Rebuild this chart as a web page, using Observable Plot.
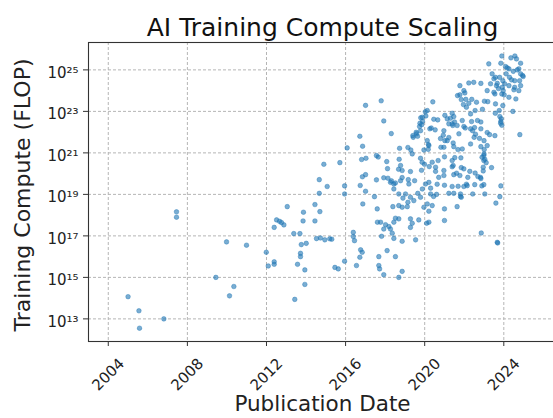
<!DOCTYPE html>
<html><head><meta charset="utf-8">
<script src="https://cdn.jsdelivr.net/npm/d3@7"></script>
<script src="https://cdn.jsdelivr.net/npm/@observablehq/plot@0.6"></script>
<style>
html,body{margin:0;padding:0;background:#fff;overflow:hidden}
#wrap{width:553px;height:418px;overflow:hidden;position:relative}
#wrap svg{max-width:none !important;width:565px !important;height:418px !important}
</style></head><body><div id="wrap"></div>
<script>
const chartTitle = "AI Training Compute Scaling";
const xLabel = "Publication Date";
const yLabel = "Training Compute (FLOP)";
const yearTicks = [2004, 2008, 2012, 2016, 2020, 2024];
const exponentTicks = [13, 15, 17, 19, 21, 23, 25];
// [publication year, log10(training compute FLOP)]
const samples = [
[2005.00,14.07],[2005.55,13.39],[2005.58,12.55],[2006.81,13.00],[2007.45,18.16],[2007.45,17.90],
[2009.44,15.00],[2009.98,16.71],[2010.13,14.11],[2010.35,14.56],[2010.99,16.55],[2011.99,16.21],
[2012.09,15.55],[2012.39,17.41],[2012.39,15.75],[2012.39,15.63],[2012.51,17.77],[2012.66,17.70],
[2012.76,17.64],[2012.88,17.53],[2013.05,18.41],[2013.38,17.11],[2013.43,13.94],[2013.57,15.63],
[2013.69,17.11],[2013.76,16.58],[2013.72,16.16],[2013.72,16.00],[2013.87,18.14],[2013.85,17.72],
[2014.01,16.64],[2013.94,15.36],[2013.94,14.66],[2014.90,20.45],[2014.67,19.71],[2015.07,19.38],
[2014.67,19.05],[2014.45,18.51],[2014.70,18.17],[2014.45,17.72],[2014.53,16.87],[2014.73,16.90],
[2014.95,16.81],[2015.20,16.86],[2015.30,16.84],[2015.46,15.48],[2015.63,15.41],[2015.71,20.53],
[2015.95,19.41],[2015.95,19.02],[2015.95,15.78],[2016.08,21.24],[2016.72,21.80],[2016.86,21.32],
[2016.74,19.43],[2016.85,19.85],[2016.81,20.68],[2017.03,20.74],[2017.01,19.95],[2017.01,19.15],
[2016.87,18.54],[2016.39,17.17],[2016.39,16.97],[2016.45,16.77],[2016.76,16.33],[2016.84,16.21],
[2016.72,15.97],[2016.55,15.57],[2017.01,23.29],[2017.80,23.51],[2017.93,22.54],[2018.31,21.93],
[2017.56,20.87],[2017.65,20.80],[2018.08,20.58],[2018.12,20.24],[2017.56,19.70],[2017.93,19.80],
[2017.46,18.89],[2017.60,18.30],[2017.61,17.66],[2017.77,17.66],[2018.02,17.54],[2018.19,17.45],
[2018.27,17.33],[2017.93,17.33],[2017.82,16.98],[2017.68,16.00],[2017.68,15.57],[2017.72,15.41],
[2017.93,15.13],[2018.10,16.29],[2018.52,16.00],[2018.86,15.29],[2018.69,15.00],[2018.36,17.13],
[2018.44,16.88],[2018.86,16.74],[2019.54,16.81],[2018.69,17.82],[2018.44,17.66],[2018.52,17.85],
[2018.39,18.41],[2018.69,18.46],[2018.86,18.38],[2018.90,18.82],[2019.12,18.41],[2019.28,17.82],
[2019.37,17.61],[2019.70,17.77],[2019.28,17.41],[2020.21,17.66],[2020.10,17.61],[2020.13,18.54],
[2020.21,18.19],[2019.96,18.38],[2020.38,18.46],[2018.27,19.58],[2018.44,19.50],[2018.78,19.66],
[2019.20,19.50],[2018.44,19.26],[2018.69,19.02],[2019.03,19.02],[2019.15,18.62],[2019.28,18.86],
[2019.45,18.70],[2019.65,19.05],[2019.79,18.86],[2019.88,19.26],[2020.04,19.50],[2020.21,19.58],
[2020.30,19.02],[2018.14,19.78],[2018.32,19.65],[2018.52,19.55],[2018.86,19.81],[2018.68,20.21],
[2018.71,20.69],[2018.78,20.39],[2018.86,20.15],[2018.73,21.22],[2019.15,21.26],[2019.30,21.14],
[2019.28,20.10],[2019.17,19.71],[2019.49,19.66],[2019.84,20.16],[2019.99,20.45],[2020.23,20.34],
[2019.79,20.74],[2019.96,21.14],[2019.37,20.95],[2019.87,20.55],[2020.38,20.55],[2020.55,20.31],
[2019.40,21.83],[2019.57,21.99],[2019.74,22.27],[2019.85,22.36],[2019.89,22.52],[2019.80,22.69],
[2020.03,22.98],[2020.06,22.78],[2020.41,23.46],[2019.64,21.80],[2019.79,22.07],[2020.19,21.40],
[2020.18,21.17],[2020.46,22.62],[2020.33,22.20],[2020.66,22.59],[2020.53,22.11],[2020.80,21.69],
[2020.94,21.85],[2020.82,21.27],[2021.02,22.81],[2021.22,22.40],[2021.30,22.67],[2021.39,22.91],
[2021.47,22.75],[2021.51,22.49],[2021.64,22.32],[2021.42,22.32],[2021.02,21.59],[2021.22,21.74],
[2021.44,21.48],[2021.00,20.81],[2021.68,21.16],[2021.52,20.77],[2021.83,20.76],[2021.39,20.33],
[2021.85,20.29],[2021.78,19.91],[2022.18,19.82],[2022.11,19.49],[2021.98,19.38],[2021.69,19.39],
[2021.00,19.44],[2020.63,19.49],[2020.97,20.15],[2020.55,20.11],[2020.71,19.82],[2020.68,20.63],
[2021.78,24.24],[2021.66,23.76],[2022.03,23.89],[2021.85,23.57],[2022.08,23.58],[2021.96,23.33],
[2022.11,23.20],[2022.23,23.39],[2022.38,23.58],[2022.23,24.37],[2022.48,24.40],[2022.84,24.35],
[2022.62,23.44],[2022.55,23.04],[2022.32,22.88],[2022.37,22.51],[2022.32,22.16],[2022.05,22.20],
[2022.52,22.22],[2022.57,21.90],[2022.77,21.70],[2022.84,22.49],[2022.92,23.10],[2023.02,23.49],
[2023.19,23.47],[2023.16,21.98],[2023.28,21.88],[2023.01,21.16],[2022.84,21.30],[2022.99,20.87],
[2023.04,20.69],[2023.11,20.53],[2022.96,20.13],[2023.38,20.29],[2022.84,19.76],[2022.55,20.03],
[2022.89,19.41],[2023.85,19.41],[2023.57,22.91],[2023.80,22.75],[2023.85,22.52],[2023.90,22.33],
[2023.77,23.04],[2023.95,23.28],[2023.55,23.84],[2023.90,23.84],[2023.73,24.10],[2023.97,24.00],
[2023.58,24.64],[2023.41,24.81],[2023.24,25.29],[2023.90,25.67],[2023.85,25.32],[2024.17,25.10],
[2024.12,24.81],[2024.36,25.58],[2024.56,25.67],[2024.64,25.53],[2024.85,25.32],[2024.76,25.05],
[2024.48,24.93],[2024.85,24.81],[2024.95,24.73],[2024.80,24.48],[2024.55,24.48],[2024.29,24.64],
[2024.51,24.04],[2024.26,23.68],[2024.61,23.60],[2024.46,23.00],[2024.81,21.88],[2023.95,24.48],
[2024.04,24.33],[2023.67,24.35],[2023.33,24.33],[2023.16,24.00],[2024.09,25.16],[2024.26,25.05],
[2024.68,25.00],[2024.98,24.68],[2023.50,24.57],[2023.79,24.64],[2024.39,24.52],[2024.85,24.24],
[2024.55,24.16],[2024.26,24.24],[2023.63,24.24],[2023.92,24.16],[2024.76,24.00],[2024.02,23.80],
[2023.50,23.92],[2021.98,24.00],[2021.78,23.80],[2023.58,23.36],[2023.87,22.64],[2023.84,22.43],
[2023.55,21.83],[2023.00,21.59],[2023.16,21.35],[2023.00,20.95],[2022.67,22.56],[2022.84,22.16],
[2022.42,22.07],[2022.50,21.75],[2022.32,21.43],[2020.97,22.07],[2021.14,22.64],[2021.39,22.40],
[2021.90,22.56],[2021.98,22.27],[2021.73,21.92],[2021.14,21.59],[2021.47,21.30],[2021.90,21.19],
[2020.97,21.27],[2019.42,21.75],[2019.59,21.92],[2019.76,22.43],[2019.88,22.72],[2020.13,23.04],
[2020.26,22.16],[2020.13,21.59],[2020.21,21.35],[2023.60,18.58],[2023.80,18.89],[2022.86,17.14],
[2023.67,16.69],[2023.69,16.66],[2021.00,18.30],[2021.00,17.74],[2021.64,18.41],[2021.81,18.90],
[2020.30,19.30],[2020.60,19.00],[2020.45,18.90],[2021.39,20.63],[2021.44,20.39],[2022.90,20.79],
[2022.99,20.63],[2022.96,20.31],[2020.97,19.91],[2021.47,19.95],[2021.61,20.02],[2021.98,20.23],
[2022.28,20.11],[2022.69,19.86],[2022.82,19.82],[2021.39,19.38],[2022.15,19.42],[2022.53,19.47],
[2022.99,19.47],[2021.22,19.05],[2021.47,19.05],[2021.81,19.02],[2021.85,18.86],[2022.43,19.02],
[2023.04,19.02]
];

const SUP = "⁰¹²³⁴⁵⁶⁷⁸⁹";
const sup = n => String(n).split("").map(c => SUP[+c]).join("");
const data = samples.map(([year, e]) => ({year, flop: 10 ** e}));
const font = "DejaVu Sans";

const chart = Plot.plot({
  width: 565, height: 418,
  marginLeft: 88, marginRight: 0, marginTop: 42, marginBottom: 77,
  style: {fontFamily: font, fontSize: "15px", color: "#222", background: "#fff", overflow: "visible", maxWidth: "none"},
  x: {domain: [2003.0, 2027.12]},
  y: {type: "log", domain: [10 ** 11.91, 10 ** 26.32]},
  marks: [
    Plot.gridX(yearTicks, {stroke: "#b5b5b5", strokeOpacity: 1, strokeDasharray: "3,2"}),
    Plot.gridY(exponentTicks.map(e => 10 ** e), {stroke: "#b5b5b5", strokeOpacity: 1, strokeDasharray: "3,2"}),
    Plot.dot(data, {x: "year", y: "flop", r: 2.3, fill: "#1f77b4", fillOpacity: 0.6, stroke: "#1f77b4", strokeOpacity: 0.6, strokeWidth: 0.7}),
    Plot.frame({stroke: "#333", strokeWidth: 1.1}),
    Plot.axisX(yearTicks, {tickSize: 5, tickFormat: () => "", label: null, stroke: "#333"}),
    Plot.axisY(exponentTicks.map(e => 10 ** e), {tickSize: 5, tickFormat: () => "", label: null, stroke: "#333"}),
    Plot.text(yearTicks, {x: d => d, text: d => String(d), frameAnchor: "bottom", dy: 33, rotate: -45,
      textAnchor: "middle", lineAnchor: "middle", fontSize: 15, fill: "#222"}),
    Plot.text(exponentTicks, {y: e => 10 ** e, text: e => "10" + sup(e), frameAnchor: "left", dx: -10, dy: 3,
      textAnchor: "end", lineAnchor: "middle", fontSize: 15, fill: "#222"}),
    Plot.text([chartTitle], {text: d => d, frameAnchor: "top", dx: -4.5, dy: -15, fontSize: 25, lineAnchor: "middle", fill: "#111"}),
    Plot.text([xLabel], {text: d => d, frameAnchor: "bottom", dx: -4.5, dy: 63, fontSize: 21.5, lineAnchor: "middle", fill: "#222"}),
    Plot.text([yLabel], {text: d => d, frameAnchor: "left", dx: -66, dy: 3, rotate: -90, fontSize: 22,
      textAnchor: "middle", lineAnchor: "middle", fill: "#222"})
  ]
});
document.getElementById("wrap").appendChild(chart);
</script>
</body></html>
